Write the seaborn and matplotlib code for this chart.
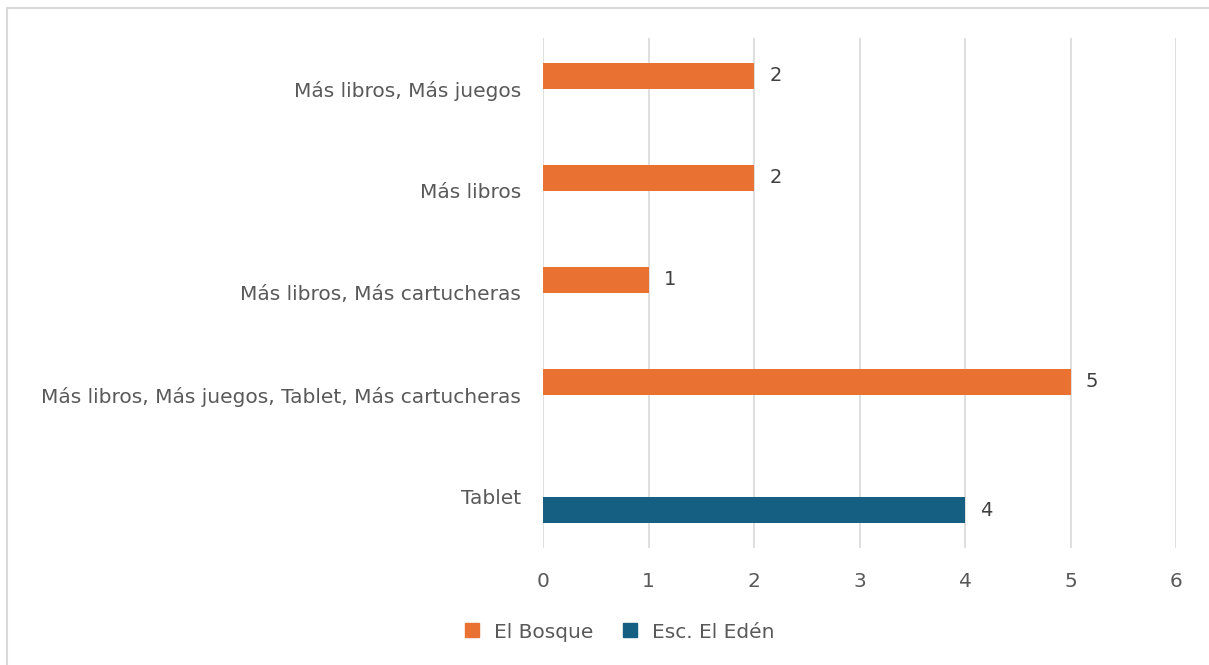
import pandas as pd
import matplotlib.pyplot as plt
import seaborn as sns
from matplotlib.lines import Line2D

# Datos
categorias = ["Más libros, Más juegos", "Más libros", "Más libros, Más cartucheras",
              "Más libros, Más juegos, Tablet, Más cartucheras", "Tablet"]
escuelas = ["El Bosque", "Esc. El Edén"]
el_bosque = [2, 2, 1, 5, None]
el_eden = [None, None, None, None, 4]

colores = {"El Bosque": "#E97132", "Esc. El Edén": "#156082"}
gris = "#595959"

filas = []
for cat, b, e in zip(categorias, el_bosque, el_eden):
    if b is not None:
        filas.append({"categoria": cat, "escuela": "El Bosque", "valor": b})
    if e is not None:
        filas.append({"categoria": cat, "escuela": "Esc. El Edén", "valor": e})
df = pd.DataFrame(filas)

sns.set_style("white")
plt.rcParams["font.family"] = ["DejaVu Sans"]

fig = plt.figure(figsize=(12.09, 6.65), dpi=100)
ax = fig.add_axes([543 / 1209, 1 - 548 / 665, (1176 - 543) / 1209, (548 - 38) / 665])

sns.barplot(data=df, y="categoria", x="valor", hue="escuela", order=categorias,
            hue_order=escuelas, palette=colores, orient="h", width=0.51,
            dodge=True, legend=False, ax=ax, saturation=1, linewidth=0)

for cont in ax.containers:
    ax.bar_label(cont, labels=[f"{v:g}" for v in cont.datavalues], padding=11,
                 fontsize=14, color="#404040")

ax.set_xlim(0, 6)
ax.set_ylim(4.5, -0.5)
ax.set_xticks(range(7))
ax.grid(axis="x", color="#D9D9D9", linewidth=1.2)
ax.set_axisbelow(True)
for s in ax.spines.values():
    s.set_visible(False)
ax.tick_params(axis="both", length=0, labelsize=14.5, labelcolor=gris)
ax.tick_params(axis="y", pad=16)
ax.tick_params(axis="x", pad=17)
ax.set_xlabel("")
ax.set_ylabel("")
for lab in ax.get_yticklabels():
    lab.set_y(lab.get_position()[1])

# Leyenda
handles = [Line2D([], [], marker="s", linestyle="", markersize=10,
                  color=colores[e]) for e in escuelas]
fig.legend(handles, escuelas, loc="center", bbox_to_anchor=(0.507, 1 - 632 / 665),
           ncol=2, frameon=False, fontsize=14.5, handletextpad=0.1,
           columnspacing=0.8, labelcolor=gris)

# Borde del gráfico
fig.add_artist(Line2D([7 / 1209, 7 / 1209], [0, 1 - 8 / 665], color="#D9D9D9",
                      linewidth=1.5, transform=fig.transFigure))
fig.add_artist(Line2D([7 / 1209, 1], [1 - 8 / 665, 1 - 8 / 665], color="#D9D9D9",
                      linewidth=1.5, transform=fig.transFigure))

fig.savefig("out.png", dpi=100)
